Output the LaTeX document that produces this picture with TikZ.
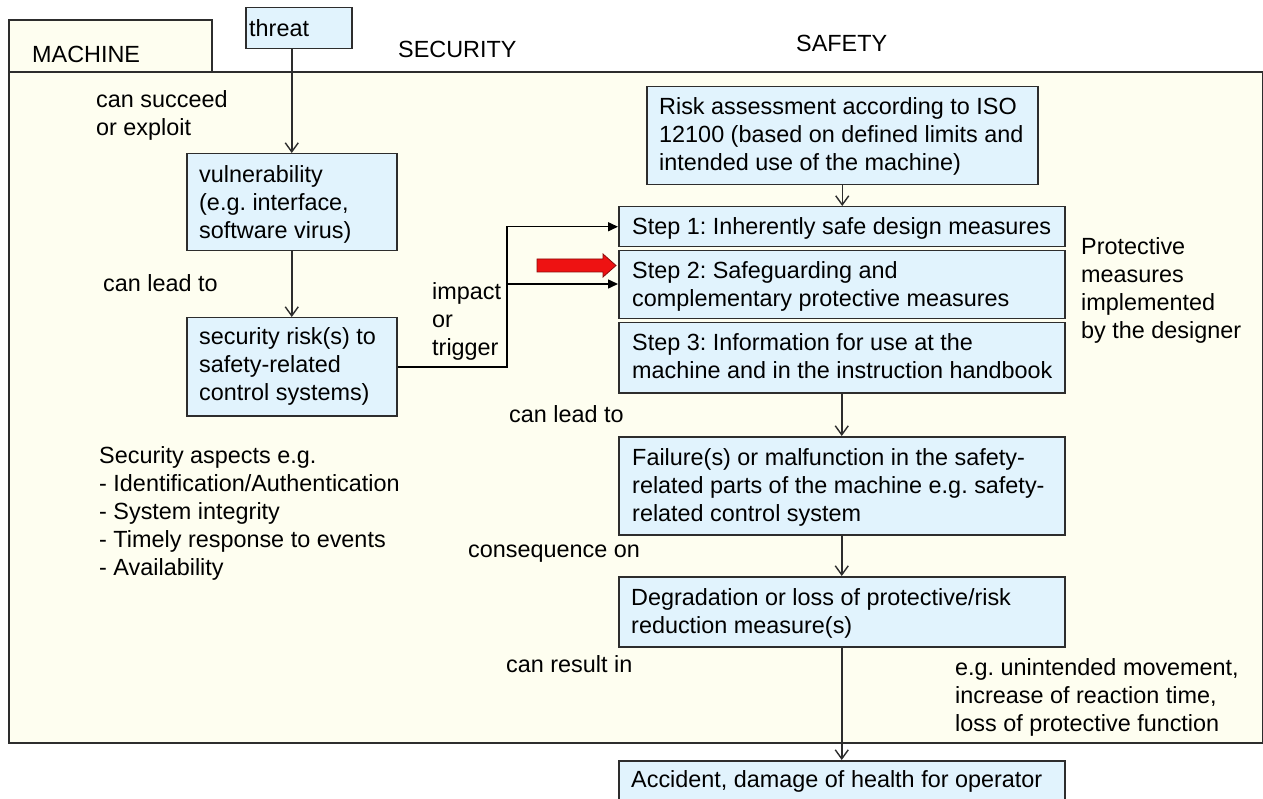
\documentclass[tikz,border=0pt]{standalone}
\usepackage{fontspec}
\setmainfont{Liberation Sans}
\usetikzlibrary{arrows.meta}
\frenchspacing

\definecolor{areafill}{RGB}{254,254,240}
\definecolor{boxfill}{RGB}{225,243,253}
\definecolor{edge}{RGB}{45,45,45}
\definecolor{alertred}{RGB}{238,18,18}
\definecolor{alertedge}{RGB}{140,10,10}

\begin{document}
\begin{tikzpicture}[x=1pt,y=-1pt,
  every node/.style={font=\fontsize{23.4}{28}\selectfont},
  region/.style={draw=edge, line width=1.5pt, fill=areafill},
  box/.style={draw=edge, line width=1.5pt, fill=boxfill, anchor=north west,
    inner sep=0pt},
  txt/.style={anchor=north west, inner sep=0pt, align=left, text=black},
  flow/.style={draw=edge, line width=1.5pt,
    -{Straight Barb[length=9pt,width=13pt,line width=1.4pt]}},
  feed/.style={draw=black, line width=1.5pt, -{Triangle[length=10pt,width=9pt]}},
  alert/.style={fill=alertred, draw=alertedge, line width=0.8pt, line join=miter}
]
\useasboundingbox (0,0) rectangle (1263,799);

% machine boundary and its tab
\draw[region] (9,72) rectangle (1262.5,743);
\draw[region] (9,20) rectangle (212,72);

% boxes (top-left corner, width, height)
\node[box, minimum width=106, minimum height=41] (threat) at (245,7) {};
\node[box, minimum width=210, minimum height=97] (vuln) at (186,153) {};
\node[box, minimum width=210, minimum height=98] (sec) at (186,317) {};
\node[box, minimum width=391, minimum height=98] (risk) at (646,86) {};
\node[box, minimum width=446, minimum height=40] (step1) at (618,206) {};
\node[box, minimum width=446, minimum height=68] (step2) at (618,250) {};
\node[box, minimum width=446, minimum height=70] (step3) at (618,322) {};
\node[box, minimum width=446, minimum height=98] (fail) at (618,436) {};
\node[box, minimum width=446, minimum height=70] (deg) at (618,576) {};
\node[box, minimum width=446, minimum height=44] (acc) at (618,760) {};

% box texts (y = first baseline - strut height)
\node[txt] (threatT) at (249,16.4) {\strut threat};
\node[txt] (vulnT) at (199,162.4) {\strut vulnerability\\(e.g. interface,\\software virus)};
\node[txt] (secT) at (199,324.4) {\strut security risk(s) to\\safety-related\\control systems)};
\node[txt] (riskT) at (659,94.4) {\strut Risk assessment according to ISO\\12100 (based on defined limits and\\intended use of the machine)};
\node[txt] (step1T) at (632,214.4) {\strut Step 1: Inherently safe design measures};
\node[txt] (step2T) at (632,258.4) {\strut Step 2: Safeguarding and\\complementary protective measures};
\node[txt] (step3T) at (632,330.4) {\strut Step 3: Information for use at the\\machine and in the instruction handbook};
\node[txt] (failT) at (632,445.4) {\strut Failure(s) or malfunction in the safety-\\related parts of the machine e.g. safety-\\related control system};
\node[txt] (degT) at (631,585.4) {\strut Degradation or loss of protective/risk\\reduction measure(s)};
\node[txt] (accT) at (631,767.4) {\strut Accident, damage of health for operator};

% free labels
\node[txt] (machineL) at (32,42.4) {\strut MACHINE};
\node[txt] (securityL) at (398,37.4) {\strut SECURITY};
\node[txt] (safetyL) at (796,31.4) {\strut SAFETY};
\node[txt] (succeedL) at (96,87.4) {\strut can succeed\\or exploit};
\node[txt] (leadL) at (103,271.4) {\strut can lead to};
\node[txt] (impactL) at (432,279.4) {\strut impact\\or\\trigger};
\node[txt] (lead2L) at (509,402.4) {\strut can lead to};
\node[txt] (aspectsL) at (99,443.4) {\strut Security aspects e.g.\\- Identification/Authentication\\- System integrity\\- Timely response to events\\- Availability};
\node[txt] (consL) at (468,537.4) {\strut consequence on};
\node[txt] (resultL) at (506,652.4) {\strut can result in};
\node[txt] (protL) at (1081,234.4) {\strut Protective\\measures\\implemented\\by the designer};
\node[txt] (egL) at (955,655.4) {\strut e.g. unintended movement,\\increase of reaction time,\\loss of protective function};

% security chain
\draw[flow] (vuln.north |- threat.south) -- (vuln.north);
\draw[flow] (vuln.south) -- (sec.north);

% impact on the protective steps
\coordinate (split) at (507,284);
\draw[feed] (sec.east) -| (split) |- (step1.west);
\draw[feed] (split) -- (split -| step2.west);

% safety chain
\draw[flow] (risk.south) -- (risk.south |- step1.north);
\draw[flow] (step3.south) -- (fail.north);
\draw[flow] (fail.south) -- (deg.north);
\draw[flow] (deg.south) -- (acc.north);

% highlight arrow pointing at step 2
\draw[alert] (537,259) -- (603,259) -- (603,254) -- (616,265.5)
  -- (603,277) -- (603,272) -- (537,272) -- cycle;
\end{tikzpicture}
\end{document}
